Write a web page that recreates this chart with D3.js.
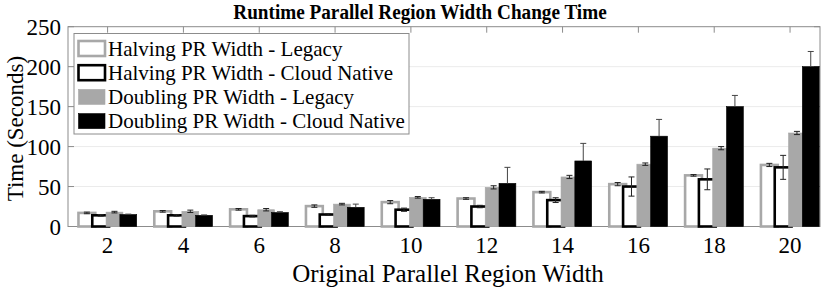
<!DOCTYPE html>
<html lang="en">
<title>Runtime Parallel Region Width Change Time</title>
<meta charset="UTF-8">
<script src="https://d3js.org/d3.v7.min.js"></script>
<style>
  body { margin: 0; background: #fff; }
  text { font-family: "Liberation Serif", "Times New Roman", serif; fill: #000; }
</style>
<body>
<div id="my_dataviz"></div>
<script>

// data
var widths = [2, 4, 6, 8, 10, 12, 14, 16, 18, 20];
var seriesNames = ["Halving PR Width - Legacy", "Halving PR Width - Cloud Native",
                   "Doubling PR Width - Legacy", "Doubling PR Width - Cloud Native"];
var halvLegacy    = [17, 19, 21.5, 25.5, 30.5, 35, 43, 53, 64, 77];
var halvCloud     = [14, 14, 13, 15, 21, 25, 33, 50, 59, 74];
var doubLegacy    = [18, 19, 21, 28, 36.5, 49, 62, 78, 98, 117];
var doubCloud     = [15, 14, 17.5, 24, 34, 54, 82, 113, 150, 200];
var halvLegacyErr = [1, 1, 1, 1.5, 2, 1, 1, 2, 1, 2];
var halvCloudErr  = [1, 1, 1, 1, 2, 1.5, 3, 12, 13, 15];
var doubLegacyErr = [1, 1.5, 1.5, 1, 1, 2, 2, 1.5, 2, 2];
var doubCloudErr  = [0.5, 0.5, 1, 4, 2, 20, 22, 21, 14, 19];
var yTicks = [0, 50, 100, 150, 200, 250];

var values = [halvLegacy, halvCloud, doubLegacy, doubCloud];
var errors = [halvLegacyErr, halvCloudErr, doubLegacyErr, doubCloudErr];

// bar styles: hollow gray, hollow black, filled gray, filled black
var styles = [
  {fill: "#fff", stroke: "#a8a8a8", sw: 2.6},
  {fill: "#fff", stroke: "#000", sw: 2.6},
  {fill: "#a8a8a8", stroke: "#a8a8a8", sw: 0.6},
  {fill: "#000", stroke: "#000", sw: 0.6}
];

var W = 830, H = 288;
var pLeft = 68, pRight = 820, pTop = 26.7, pBottom = 226.5;

var svg = d3.select("#my_dataviz")
  .append("svg")
    .attr("width", W)
    .attr("height", H);

var x = d3.scaleLinear().domain([0.956, 20.79]).range([pLeft, pRight]);
var y = d3.scaleLinear().domain([0, 250]).range([pBottom, pTop]);

var step = x(4) - x(2);
var offset = step * 0.182;
var barW = step * 0.222;

// grid
svg.append("g")
  .selectAll("line")
  .data(yTicks.slice(1, -1))
  .enter()
  .append("line")
    .attr("x1", pLeft).attr("x2", pRight)
    .attr("y1", d => y(d)).attr("y2", d => y(d))
    .attr("stroke", "#ebebeb").attr("stroke-width", 1);

// box + ticks
var axisCol = "#8c8c8c";
svg.append("rect")
  .attr("x", pLeft).attr("y", pTop)
  .attr("width", pRight - pLeft).attr("height", pBottom - pTop)
  .attr("fill", "none").attr("stroke", axisCol).attr("stroke-width", 1);

svg.append("g").selectAll("line").data(widths).enter().append("line")
  .attr("x1", d => x(d)).attr("x2", d => x(d))
  .attr("y1", pTop).attr("y2", pTop + 6)
  .attr("stroke", axisCol);

svg.append("g").selectAll("line").data(yTicks).enter().append("line")
  .attr("x1", pRight).attr("x2", pRight - 6)
  .attr("y1", d => y(d)).attr("y2", d => y(d))
  .attr("stroke", axisCol);

svg.append("g").selectAll("line").data(yTicks).enter().append("line")
  .attr("x1", pLeft).attr("x2", pLeft + 6)
  .attr("y1", d => y(d)).attr("y2", d => y(d))
  .attr("stroke", axisCol);

// bars, series by series so later ones overlap earlier ones
values.forEach(function(vals, s) {
  var st = styles[s];
  var g = svg.append("g");
  g.selectAll("rect")
    .data(vals)
    .enter()
    .append("rect")
      .attr("x", (d, i) => x(widths[i]) + (s - 1.5) * offset - barW / 2)
      .attr("y", d => y(d))
      .attr("width", barW)
      .attr("height", d => y(0) - y(d))
      .attr("fill", st.fill)
      .attr("stroke", st.stroke)
      .attr("stroke-width", st.sw);

  // error bars
  var eg = svg.append("g").attr("stroke", s == 3 ? "#444" : "#222").attr("stroke-width", 1);
  vals.forEach(function(v, i) {
    var cx = x(widths[i]) + (s - 1.5) * offset;
    var e = errors[s][i];
    var lo = s == 3 ? v : v - e;
    eg.append("line").attr("x1", cx).attr("x2", cx).attr("y1", y(lo)).attr("y2", y(v + e));
    eg.append("line").attr("x1", cx - 3).attr("x2", cx + 3).attr("y1", y(v + e)).attr("y2", y(v + e));
    if (s != 3)
      eg.append("line").attr("x1", cx - 3).attr("x2", cx + 3).attr("y1", y(v - e)).attr("y2", y(v - e));
  });
});

// tick labels
svg.append("g").selectAll("text").data(yTicks).enter().append("text")
  .attr("x", pLeft - 7)
  .attr("y", d => y(d) + 8)
  .style("text-anchor", "end")
  .style("font-size", "23px")
  .text(d => d);

svg.append("g").selectAll("text").data(widths).enter().append("text")
  .attr("x", d => x(d))
  .attr("y", 253)
  .style("text-anchor", "middle")
  .style("font-size", "23px")
  .text(d => d);

// axis labels + title
svg.append("text")
  .attr("x", (pLeft + pRight) / 2 + 4)
  .attr("y", 282)
  .style("text-anchor", "middle")
  .style("font-size", "25px")
  .text("Original Parallel Region Width");

svg.append("text")
  .attr("transform", "translate(23," + ((pTop + pBottom) / 2 + 2) + ") rotate(-90)")
  .style("text-anchor", "middle")
  .style("font-size", "23px")
  .text("Time (Seconds)");

svg.append("text")
  .attr("transform", "translate(420,19) scale(1,1.12)")
  .style("text-anchor", "middle")
  .style("font-size", "19.2px")
  .style("font-weight", "bold")
  .text("Runtime Parallel Region Width Change Time");

// legend
var leg = svg.append("g");
leg.append("rect")
  .attr("x", 74).attr("y", 33.5)
  .attr("width", 335).attr("height", 100.5)
  .attr("fill", "#fff").attr("stroke", "#8c8c8c").attr("stroke-width", 1);

seriesNames.forEach(function(name, s) {
  var st = styles[s];
  var cy = 48.5 + s * 24.2;
  leg.append("rect")
    .attr("x", 78.5).attr("y", cy - 7.5)
    .attr("width", 26.5).attr("height", 15)
    .attr("fill", st.fill)
    .attr("stroke", st.stroke)
    .attr("stroke-width", st.sw);
  leg.append("text")
    .attr("x", 108)
    .attr("y", cy + 7)
    .style("font-size", "21px")
    .text(name);
});

</script>
</body>
</html>
